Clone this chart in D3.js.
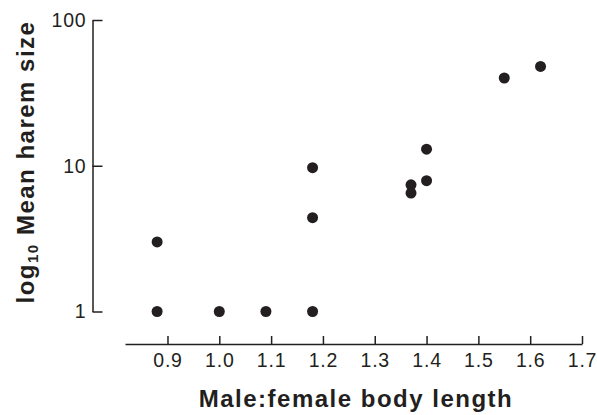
<!DOCTYPE html>
<html>
<head>
<meta charset="utf-8">
<script src="https://cdn.jsdelivr.net/npm/d3@7"></script>
<style>
  body { margin: 0; background: #fff; }
  svg { display: block; font-family: "Liberation Sans", Arial, Helvetica, sans-serif; }
  .axis path, .axis line { stroke: #231f20; stroke-width: 1.5; }
  .axis text { fill: #231f20; font-size: 19.5px; letter-spacing: 0.8px; }
  .title { fill: #231f20; font-weight: bold; font-size: 24px; letter-spacing: 1.5px; }
</style>
</head>
<body>
<svg id="chart" width="597" height="415"></svg>
<script>
// body length ratio (male:female) vs mean harem size
var ratio = [0.88, 0.88, 1.00, 1.09, 1.18, 1.18, 1.18, 1.37, 1.37, 1.40, 1.40, 1.55, 1.62];
var haremSize = [1, 3, 1, 1, 1, 4.4, 9.7, 7.4, 6.5, 7.9, 13, 40, 48];
var xTicks = [0.9, 1.0, 1.1, 1.2, 1.3, 1.4, 1.5, 1.6, 1.7];
var yTicks = [1, 10, 100];

var svg = d3.select("#chart");

var xScale = d3.scaleLinear().domain([0.818, 1.7]).range([125, 582]);
var yScale = d3.scaleLog().domain([1, 100]).range([311.5, 20]);

var xAxis = d3.axisBottom(xScale)
  .tickValues(xTicks)
  .tickFormat(d3.format(".1f"))
  .tickSizeInner(-8)
  .tickSizeOuter(0)
  .tickPadding(9);

var yAxis = d3.axisLeft(yScale)
  .tickValues(yTicks)
  .tickFormat(d3.format("d"))
  .tickSizeInner(-10)
  .tickSizeOuter(0)
  .tickPadding(6);

svg.append("g")
  .attr("class", "x axis")
  .attr("transform", "translate(0,344)")
  .call(xAxis);

svg.append("g")
  .attr("class", "y axis")
  .attr("transform", "translate(92.5,0)")
  .call(yAxis);

svg.selectAll("circle.dot")
  .data(ratio.map(function (d, i) { return [d, haremSize[i]]; }))
  .enter()
  .append("circle")
  .attr("class", "dot")
  .attr("cx", function (d) { return xScale(d[0]); })
  .attr("cy", function (d) { return yScale(d[1]); })
  .attr("r", 5.5)
  .attr("fill", "#231f20");

// axis titles
svg.append("text")
  .attr("class", "title")
  .attr("x", 356)
  .attr("y", 407)
  .attr("text-anchor", "middle")
  .text("Male:female body length");

var yTitle = svg.append("text")
  .attr("class", "title")
  .attr("transform", "translate(34,162) rotate(-90)")
  .attr("text-anchor", "middle");
yTitle.append("tspan").text("log");
yTitle.append("tspan").attr("font-size", "15px").attr("dy", 4).text("10");
yTitle.append("tspan").attr("dy", -4).text(" Mean harem size");
</script>
</body>
</html>
